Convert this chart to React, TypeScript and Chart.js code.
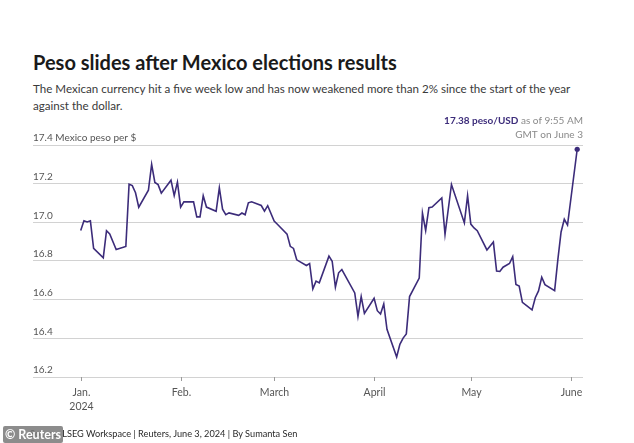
import React, { useEffect, useRef } from 'react';
import { Chart, registerables } from 'chart.js';

Chart.register(...registerables);

const TITLE = 'Peso slides after Mexico elections results';
const SUBTITLE_1 =
  'The Mexican currency hit a five week low and has now weakened more than 2% since the start of the year';
const SUBTITLE_2 = 'against the dollar.';
const SOURCE = 'Source: LSEG Workspace | Reuters, June 3, 2024 | By Sumanta Sen';
const WATERMARK = '© Reuters';
const NOTE_BOLD = '17.38 peso/USD';
const NOTE_REST = 'as of 9:55 AM';
const NOTE_LINE2 = 'GMT on June 3';

// Day offsets counted from Jan 1, 2024
const days = [
  0, 1, 2, 3, 4, 7, 8, 9, 11, 14, 15, 16, 17, 18, 21, 22, 23, 24, 25, 28, 29, 30, 31, 32, 35, 36, 37, 38, 39,
  42, 43, 44, 45, 46, 49, 50, 51, 52, 53, 56, 57, 58, 60, 61, 64, 65, 66, 67, 70, 71, 72, 73, 74, 77, 78, 79,
  80, 81, 85, 86, 87, 88, 91, 92, 93, 94, 95, 98, 99, 100, 101, 102, 105, 106, 107, 108, 109, 112, 113, 115,
  119, 120, 121, 122, 123, 126, 128, 129, 130, 131, 133, 134, 135, 136, 137, 140, 141, 142, 143, 144, 147, 148,
  149, 150, 151, 154,
];

// Mexican pesos per US dollar
const pesoPerUsd = [
  16.958, 17.008, 17.002, 17.008, 16.865, 16.817, 16.957, 16.94, 16.859, 16.875, 17.197, 17.19, 17.153, 17.078,
  17.166, 17.3, 17.206, 17.195, 17.151, 17.218, 17.138, 17.208, 17.079, 17.106, 17.106, 17.028, 17.028, 17.137,
  17.079, 17.057, 17.178, 17.068, 17.04, 17.049, 17.036, 17.048, 17.039, 17.101, 17.106, 17.087, 17.058, 17.086,
  17.007, 16.99, 16.939, 16.876, 16.865, 16.806, 16.777, 16.787, 16.656, 16.696, 16.687, 16.825, 16.799, 16.665,
  16.739, 16.756, 16.635, 16.514, 16.616, 16.529, 16.607, 16.543, 16.526, 16.578, 16.447, 16.304, 16.369, 16.401,
  16.423, 16.616, 16.712, 17.048, 16.958, 17.076, 17.079, 17.126, 16.938, 17.196, 16.997, 17.138, 16.991, 16.971,
  16.957, 16.857, 16.898, 16.748, 16.746, 16.768, 16.787, 16.823, 16.678, 16.67, 16.586, 16.547, 16.61, 16.645,
  16.716, 16.678, 16.647, 16.807, 16.95, 17.016, 16.986, 17.378,
];

const yTicks = [16.2, 16.4, 16.6, 16.8, 17.0, 17.2, 17.4];
const yTickLabels = ['16.2', '16.4', '16.6', '16.8', '17.0', '17.2', '17.4 Mexico peso per $'];
const monthDays = [0, 31, 60, 91, 121, 152];
const monthLabels = [['Jan.', '2024'], ['Feb.'], ['March'], ['April'], ['May'], ['June']];

const LINE_COLOR = '#3c2c7a';
const FONT = 'Lato, "Noto Sans", sans-serif';

const labelsPlugin = {
  id: 'customLabels',
  afterDraw(chart: any) {
    const { ctx, chartArea, scales } = chart;
    const xs = scales.x;
    const ys = scales.y;
    ctx.save();
    // y labels above gridlines
    ctx.font = `10px ${FONT}`;
    ctx.fillStyle = '#555555';
    ctx.textAlign = 'left';
    ctx.textBaseline = 'middle';
    yTicks.forEach((v, i) => {
      ctx.fillText(yTickLabels[i], chartArea.left, ys.getPixelForValue(v) - 7);
    });
    // x tick marks & labels
    ctx.strokeStyle = '#9a9a9a';
    ctx.lineWidth = 1;
    ctx.textAlign = 'center';
    ctx.font = `10.5px ${FONT}`;
    monthDays.forEach((d, i) => {
      const px = Math.round(xs.getPixelForValue(d)) + 0.5;
      ctx.beginPath();
      ctx.moveTo(px, chartArea.bottom);
      ctx.lineTo(px, chartArea.bottom + 4);
      ctx.stroke();
      monthLabels[i].forEach((t, j) => {
        ctx.fillText(t, px, chartArea.bottom + 16 + j * 14);
      });
    });
    // annotation for last value
    const right = chartArea.right;
    const top = ys.getPixelForValue(17.4);
    ctx.textAlign = 'right';
    ctx.font = `10px ${FONT}`;
    ctx.fillStyle = '#8a8a8a';
    ctx.fillText(NOTE_REST, right, top - 24);
    const restW = ctx.measureText(' ' + NOTE_REST).width;
    ctx.font = `bold 10px ${FONT}`;
    ctx.fillStyle = LINE_COLOR;
    ctx.fillText(NOTE_BOLD, right - restW, top - 24);
    ctx.font = `10px ${FONT}`;
    ctx.fillStyle = '#8a8a8a';
    ctx.fillText(NOTE_LINE2, right, top - 10);
    ctx.restore();
  },
};

export default function App() {
  const canvasRef = useRef<HTMLCanvasElement | null>(null);

  useEffect(() => {
    document.body.style.margin = '0';
    const canvas = canvasRef.current;
    if (!canvas) return;
    const pts = days.map((d, i) => ({ x: d, y: pesoPerUsd[i] }));
    const chart = new Chart(canvas, {
      type: 'line',
      data: {
        datasets: [
          {
            data: pts,
            borderColor: LINE_COLOR,
            backgroundColor: LINE_COLOR,
            borderWidth: 1.6,
            tension: 0,
            pointRadius: pts.map((_, i) => (i === pts.length - 1 ? 2.6 : 0)),
            pointBorderWidth: 0,
            pointHoverRadius: 0,
            clip: false,
          },
        ],
      },
      options: {
        responsive: false,
        animation: false,
        devicePixelRatio: 1,
        layout: { padding: { left: 33, right: 51, top: 145, bottom: 66 } },
        plugins: { legend: { display: false }, tooltip: { enabled: false }, title: { display: false } },
        scales: {
          x: {
            type: 'linear',
            min: -14.8,
            max: 155.8,
            ticks: { display: false },
            grid: { display: false, drawTicks: false },
            border: { display: false },
          },
          y: {
            type: 'linear',
            min: 16.2,
            max: 17.4,
            afterBuildTicks: (scale: any) => {
              scale.ticks = yTicks.map((v) => ({ value: v }));
            },
            ticks: { display: false },
            grid: { color: '#d2d2d2', lineWidth: 1, drawTicks: false },
            border: { display: false },
          },
        },
      },
      plugins: [labelsPlugin],
    });
    return () => chart.destroy();
  }, []);

  return (
    <div style={{ position: 'relative', width: 634, height: 443, background: '#ffffff', overflow: 'hidden', fontFamily: FONT }}>
      <div style={{ position: 'absolute', left: 33, top: 50, fontSize: 20, fontWeight: 700, color: '#1a1a1a', whiteSpace: 'nowrap' }}>
        {TITLE}
      </div>
      <div style={{ position: 'absolute', left: 33, top: 80, fontSize: 11.6, lineHeight: '17px', color: '#3a3a3a', whiteSpace: 'nowrap' }}>
        {SUBTITLE_1}
        <br />
        {SUBTITLE_2}
      </div>
      <canvas ref={canvasRef} width={634} height={443} style={{ position: 'absolute', left: 0, top: 0 }} />
      <div style={{ position: 'absolute', left: 30, top: 428, fontSize: 9.2, color: '#2a2a2a', whiteSpace: 'nowrap' }}>{SOURCE}</div>
      <div
        style={{
          position: 'absolute',
          left: 3,
          top: 426,
          width: 60,
          height: 17,
          background: 'rgba(120,120,120,0.85)',
          color: '#ffffff',
          fontSize: 12.5,
          fontWeight: 700,
          lineHeight: '17px',
          textAlign: 'center',
          borderRadius: 2,
          whiteSpace: 'nowrap',
        }}
      >
        {WATERMARK}
      </div>
    </div>
  );
}
